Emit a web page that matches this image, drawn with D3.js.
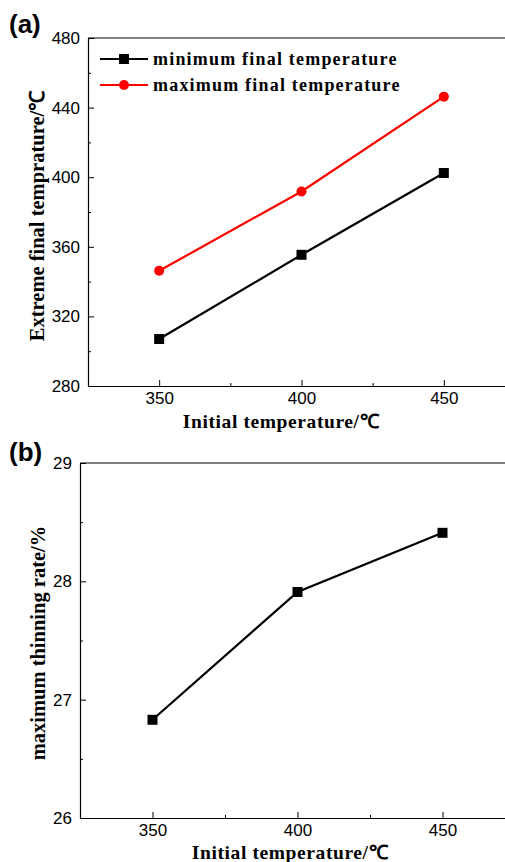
<!DOCTYPE html>
<html>
<head>
<meta charset="utf-8">
<script src="https://cdnjs.cloudflare.com/ajax/libs/d3/7.8.5/d3.min.js"></script>
<style>
  body { margin: 0; background: #fff; }
  svg { display: block; }
</style>
</head>
<body>
<div id="chart"></div>
<script>
// initial temperatures (x)
var initialTemps = [350, 400, 450];
// panel (a) values
var minFinalTemp = [307, 355.4, 402.4];
var maxFinalTemp = [346.2, 391.8, 446.3];
// panel (b) values
var maxThinning = [26.83, 27.91, 28.41];

var xTicks = [350, 400, 450];
var yTicksA = [280, 320, 360, 400, 440, 480];
var yTicksB = [26, 27, 28, 29];

var W = 505, H = 862;
var svg = d3.select("#chart").append("svg")
    .attr("width", W).attr("height", H);

var serif = "'Liberation Serif', 'Times New Roman', serif";
var sans = "'Liberation Sans', Arial, sans-serif";

function drawPanel(cfg) {
    var g = svg.append("g");
    var x = d3.scaleLinear().domain([325, 475]).range([cfg.left, cfg.left + cfg.xSpan]);
    var y = d3.scaleLinear().domain(cfg.yDomain).range([cfg.bottom, cfg.top]);

    // frame top line (right side is off the page)
    g.append("line")
        .attr("x1", cfg.left).attr("x2", W + 20)
        .attr("y1", cfg.top).attr("y2", cfg.top)
        .attr("stroke", "#000").attr("stroke-width", 1);

    // x axis, ticks inward
    var xAxis = d3.axisBottom(x).tickValues(xTicks).tickSizeInner(-6).tickSizeOuter(0)
        .tickFormat(d3.format("d"));
    var gx = g.append("g").attr("transform", "translate(0," + cfg.bottom + ")").call(xAxis);
    gx.select(".domain").attr("stroke-width", 1.2);
    gx.selectAll(".tick text").attr("font-family", sans).attr("font-size", 17)
        .attr("y", 6).attr("dy", "0.71em");
    var xMinor = d3.axisBottom(x).tickValues([375, 425]).tickSizeInner(-3).tickSizeOuter(0).tickFormat("");
    g.append("g").attr("transform", "translate(0," + cfg.bottom + ")").call(xMinor)
        .select(".domain").remove();

    // y axis, ticks inward
    var yAxis = d3.axisLeft(y).tickValues(cfg.yTicks).tickSizeInner(-6).tickSizeOuter(0)
        .tickFormat(d3.format("d"));
    var gy = g.append("g").attr("transform", "translate(" + cfg.left + ",0)").call(yAxis);
    gy.select(".domain").attr("stroke-width", 1.2);
    gy.selectAll(".tick text").attr("font-family", sans).attr("font-size", 17)
        .attr("x", -8);
    var yMinor = d3.axisLeft(y).tickValues(cfg.yMinor).tickSizeInner(-3).tickSizeOuter(0).tickFormat("");
    g.append("g").attr("transform", "translate(" + cfg.left + ",0)").call(yMinor)
        .select(".domain").remove();

    // series
    cfg.series.forEach(function (s) {
        var pts = initialTemps.map(function (t, i) { return [t, s.values[i]]; });
        g.append("path")
            .datum(pts)
            .attr("fill", "none")
            .attr("stroke", s.color)
            .attr("stroke-width", 2.2)
            .attr("d", d3.line().x(function (d) { return x(d[0]); }).y(function (d) { return y(d[1]); }));
        if (s.marker === "square") {
            g.selectAll(null).data(pts).enter().append("rect")
                .attr("x", function (d) { return x(d[0]) - 5; })
                .attr("y", function (d) { return y(d[1]) - 5; })
                .attr("width", 10).attr("height", 10)
                .attr("fill", s.color);
        } else {
            g.selectAll(null).data(pts).enter().append("circle")
                .attr("cx", function (d) { return x(d[0]); })
                .attr("cy", function (d) { return y(d[1]); })
                .attr("r", 5)
                .attr("fill", s.color);
        }
    });

    // axis titles
    g.append("text")
        .attr("x", cfg.xTitleX).attr("y", cfg.xTitleY)
        .attr("text-anchor", "middle")
        .attr("font-family", serif).attr("font-weight", "bold").attr("font-size", 19.5)
        .attr("letter-spacing", 0.6)
        .text("Initial temperature/℃");
    g.append("text")
        .attr("transform", "translate(" + cfg.yTitleX + "," + cfg.yTitleY + ") rotate(-90)")
        .attr("text-anchor", "middle")
        .attr("font-family", serif).attr("font-weight", "bold").attr("font-size", 20.5)
        .text(cfg.yTitle);

    // panel letter
    g.append("text")
        .attr("x", 9).attr("y", cfg.letterY)
        .attr("font-family", sans).attr("font-weight", "bold").attr("font-size", 26)
        .text(cfg.letter);

    return g;
}

var ga = drawPanel({
    left: 88, xSpan: 427, top: 38, bottom: 386,
    yDomain: [280, 480], yTicks: yTicksA, yMinor: [300, 340, 380, 420, 460],
    series: [
        { values: minFinalTemp, color: "#000", marker: "square" },
        { values: maxFinalTemp, color: "#ff0000", marker: "circle" }
    ],
    xTitleX: 281, xTitleY: 428,
    yTitleX: 44, yTitleY: 216, yTitle: "Extreme final temprature/℃",
    letter: "(a)", letterY: 33
});

// legend for (a)
var legendNames = ["minimum final temperature", "maximum final temperature"];
var legendColors = ["#000", "#ff0000"];
legendNames.forEach(function (name, i) {
    var ly = 59 + i * 26;
    ga.append("line").attr("x1", 100).attr("x2", 148).attr("y1", ly).attr("y2", ly)
        .attr("stroke", legendColors[i]).attr("stroke-width", 2.2);
    if (i === 0) {
        ga.append("rect").attr("x", 119).attr("y", ly - 5).attr("width", 10).attr("height", 10)
            .attr("fill", legendColors[i]);
    } else {
        ga.append("circle").attr("cx", 124).attr("cy", ly).attr("r", 5).attr("fill", legendColors[i]);
    }
    ga.append("text").attr("x", 153).attr("y", ly + 6)
        .attr("font-family", serif).attr("font-weight", "bold").attr("font-size", 18)
        .attr("letter-spacing", 1.2)
        .text(name);
});

drawPanel({
    left: 80, xSpan: 435, top: 463, bottom: 818,
    yDomain: [26, 29], yTicks: yTicksB, yMinor: [26.5, 27.5, 28.5],
    series: [
        { values: maxThinning, color: "#000", marker: "square" }
    ],
    xTitleX: 290, xTitleY: 859,
    yTitleX: 45, yTitleY: 643, yTitle: "maximum thinning rate/%",
    letter: "(b)", letterY: 461
});
</script>
</body>
</html>
